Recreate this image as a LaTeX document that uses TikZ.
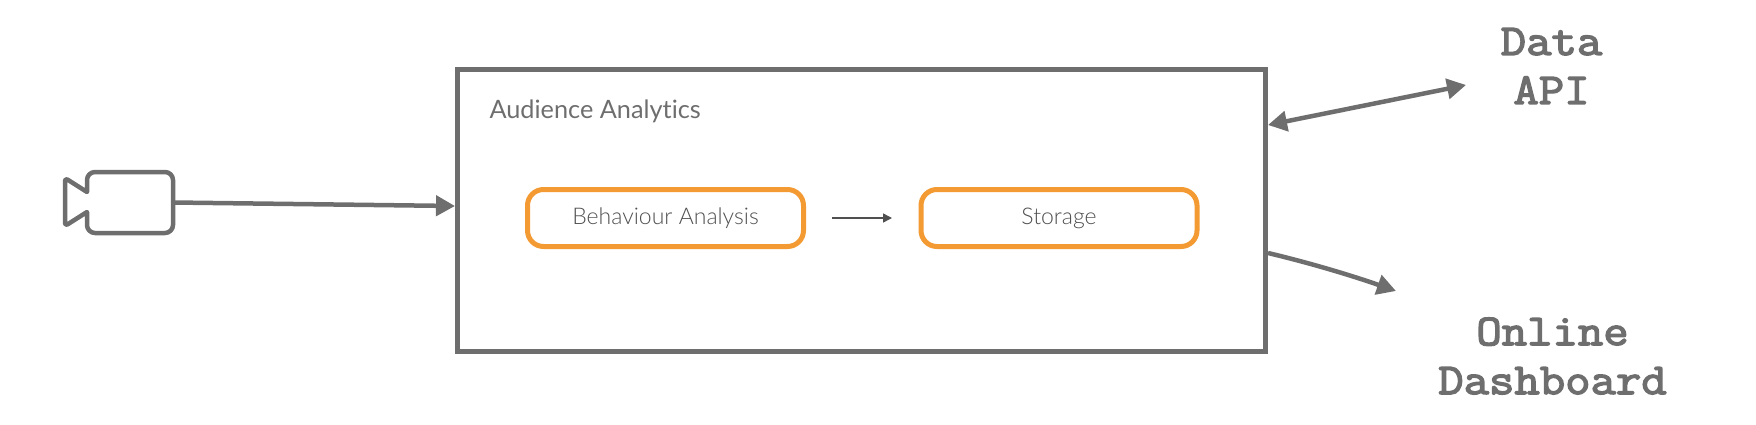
\documentclass[tikz,border=0pt]{standalone}
\usepackage{fontspec}
\setmainfont[Ligatures=NoCommon]{Lato Light}
\newfontfamily\monob[FakeBold=3.2,FakeStretch=1.12]{Latin Modern Mono}
\newfontfamily\regf[Ligatures=NoCommon]{Lato}
\usetikzlibrary{arrows.meta,calc,positioning}
\definecolor{greyline}{HTML}{6E6E6E}
\definecolor{orangeline}{HTML}{F39A33}
\definecolor{darktext}{HTML}{4F4F4F}
\tikzset{
  mainbox/.style={draw=greyline,line width=5pt,minimum width=808pt,minimum height=282pt,inner sep=0pt},
  procbox/.style={draw=orangeline,line width=5pt,rounded corners=16pt,minimum width=276pt,minimum height=57pt,inner sep=0pt,text=darktext,font=\fontsize{23}{28}\selectfont},
  cambody/.style={minimum width=108pt,minimum height=61pt,inner sep=0pt},
  camline/.style={draw=greyline,line width=4.5pt,line join=round},
  thick arrow/.style={draw=greyline,line width=4.5pt,-{Triangle[length=19pt,width=20pt]}},
  thin arrow/.style={draw=darktext,line width=1.5pt,-{Triangle[length=9pt,width=9pt]}},
  mono label/.style={text=greyline,align=center,font=\fontsize{44}{49}\selectfont\monob},
}
\begin{document}
\begin{tikzpicture}[x=1pt,y=-1pt]
\useasboundingbox (0,0) rectangle (1756,424);
\node[mainbox] (main) at (861.5,210) {};
\node[anchor=base west,text=greyline,font=\fontsize{25.3}{30}\selectfont\regf] (title) at (486,118) {Audience Analytics};
\node[procbox] (ba) at (665.5,218) {Behaviour Analysis};
\node[procbox] (st) at (1059,218) {Storage};
\node[cambody] (cam) at (119,202.5) {};
\draw[camline] (87,192) -- (87,180) [rounded corners=8pt] -- (87,172) -- (173,172) -- (173,233) -- (87,233) [sharp corners] -- (87,225) -- (87,212)
  [rounded corners=3pt] -- (65,226) -- (65,178) [sharp corners] -- (87,192) -- cycle;
\node[mono label] (api) at (1551.5,66) {Data\\API};
\node[mono label] (dash) at (1552.5,356) {Online\\Dashboard};
\coordinate (apiend) at (1466,85);
\coordinate (mainapi) at (1268,125);
\coordinate (mainin) at (455,206);
\coordinate (maindash) at (1268,253);
\coordinate (dashend) at (1396,291);
\coordinate (baout) at (832,218);
\coordinate (stin) at (892,218);
\draw[thick arrow] (cam.east) -- (mainin);
\draw[thick arrow,{Triangle[length=19pt,width=20pt]}-{Triangle[length=19pt,width=20pt]}] (mainapi) -- (apiend);
\draw[thick arrow] (maindash) .. controls (1310,263) and (1350,275) .. (dashend);
\draw[thin arrow] (baout) -- (stin);
\end{tikzpicture}
\end{document}
